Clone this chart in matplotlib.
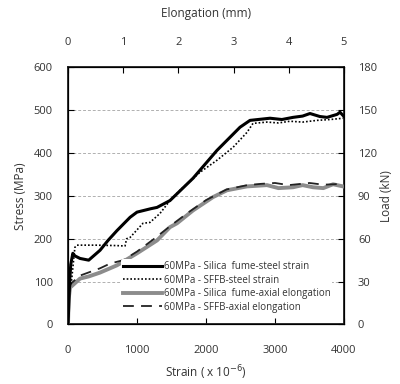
import matplotlib.pyplot as plt

plt.rcParams['font.family'] = ['Open Sans', 'DejaVu Sans']

# 60MPa - Silica fume - steel strain
sf_steel_x = [0, 15, 25, 40, 70, 100, 174, 300, 464, 580, 710, 900, 1000, 1200,
              1290, 1478, 1812, 2159, 2493, 2638, 2928, 3100, 3261, 3400, 3507,
              3650, 3754, 3900, 3942, 4000]
sf_steel_y = [0, 60, 103, 140, 166, 160, 154, 150, 173, 196, 219, 250, 262, 270,
              273, 289, 341, 406, 460, 476, 481, 478, 483, 486, 492, 485,
              483, 490, 495, 485]

# 60MPa - SFFB - steel strain
sffb_steel_x = [0, 20, 50, 100, 130, 400, 700, 826, 850, 900, 1087, 1188, 1333,
                1478, 1623, 1913, 2159, 2391, 2594, 2681, 2884, 3050, 3217,
                3400, 3609, 3800, 3986]
sffb_steel_y = [0, 80, 100, 180, 185, 185, 184, 183, 200, 203, 236, 238, 259,
                289, 313, 355, 383, 413, 448, 469, 472, 470, 474, 472, 476,
                478, 481]

# 60MPa - Silica fume - axial elongation
sf_axial_x = [0, 10, 30, 174, 300, 464, 710, 1000, 1290, 1478, 1580, 1812, 2101,
              2304, 2594, 2884, 3050, 3261, 3400, 3551, 3700, 3841, 3986]
sf_axial_y = [0, 60, 86, 107, 112, 121, 138, 166, 196, 227, 236, 266, 297,
              313, 322, 325, 318, 320, 325, 320, 318, 327, 322]

# 60MPa - SFFB - axial elongation
sffb_axial_x = [0, 10, 40, 174, 464, 609, 800, 1000, 1250, 1500, 1750, 2000,
                2300, 2600, 2800, 3000, 3200, 3500, 3700, 4000]
sffb_axial_y = [0, 70, 95, 114, 131, 142, 150, 170, 200, 232, 262, 290,
                315, 325, 328, 330, 325, 330, 326, 328]

labels = ['60MPa - Silica  fume-steel strain',
          '60MPa - SFFB-steel strain',
          '60MPa - Silica  fume-axial elongation',
          '60MPa - SFFB-axial elongation']

txt = '#333333'

fig, ax = plt.subplots(figsize=(4, 3.84), dpi=100)
fig.subplots_adjust(left=0.17, right=0.86, top=0.825, bottom=0.155)

ax.plot(sf_steel_x, sf_steel_y, color='black', lw=2.2, label=labels[0], zorder=4)
ax.plot(sffb_steel_x, sffb_steel_y, color='black', lw=1.2, ls=(0, (1, 1.2)),
        label=labels[1], zorder=4)
ax.plot(sf_axial_x, sf_axial_y, color='#8c8c8c', lw=2.8, label=labels[2], zorder=3)
ax.plot(sffb_axial_x, sffb_axial_y, color='#222222', lw=1.3, ls=(0, (6, 4)),
        label=labels[3], zorder=3)

ax.set_xlim(0, 4000)
ax.set_ylim(0, 600)
ax.set_xticks([0, 1000, 2000, 3000, 4000])
ax.set_yticks(range(0, 601, 100))
for y in range(100, 600, 100):
    ax.axhline(y, color='#b0b0b0', lw=0.7, ls=(0, (3, 2)), zorder=1)
ax.tick_params(direction='in', length=4, labelsize=8, labelcolor=txt)
ax.tick_params(axis='x', pad=15)
ax.tick_params(axis='y', pad=11)
ax.set_xlabel('Strain ( x 10$^{-6}$)', fontsize=8.5, color=txt, labelpad=5)
ax.set_ylabel('Stress (MPa)', fontsize=8.5, color=txt, labelpad=5)
for s in ax.spines.values():
    s.set_linewidth(1.3)
    s.set_color('#222222')

ax2 = ax.twinx()
ax2.set_ylim(0, 180)
ax2.set_yticks(range(0, 181, 30))
ax2.tick_params(direction='in', length=4, labelsize=8, labelcolor=txt, pad=10)
ax2.set_ylabel('Load (kN)', fontsize=8.5, color=txt, labelpad=2)

ax3 = ax.twiny()
ax3.set_xlim(0, 5)
ax3.set_xticks(range(0, 6))
ax3.tick_params(direction='in', length=4, labelsize=8, labelcolor=txt, pad=14)
ax3.set_xlabel('Elongation (mm)', fontsize=8.5, color=txt, labelpad=14)

leg = ax.legend(loc='lower right', bbox_to_anchor=(0.975, 0.02), fontsize=7,
                frameon=True, handlelength=4.0, handletextpad=0.2,
                labelspacing=0.25, borderpad=0.2)
leg.get_frame().set_edgecolor('none')
leg.get_frame().set_facecolor('white')
leg.get_frame().set_alpha(1)
for t in leg.get_texts():
    t.set_color(txt)

fig.savefig('out.png', dpi=100)
